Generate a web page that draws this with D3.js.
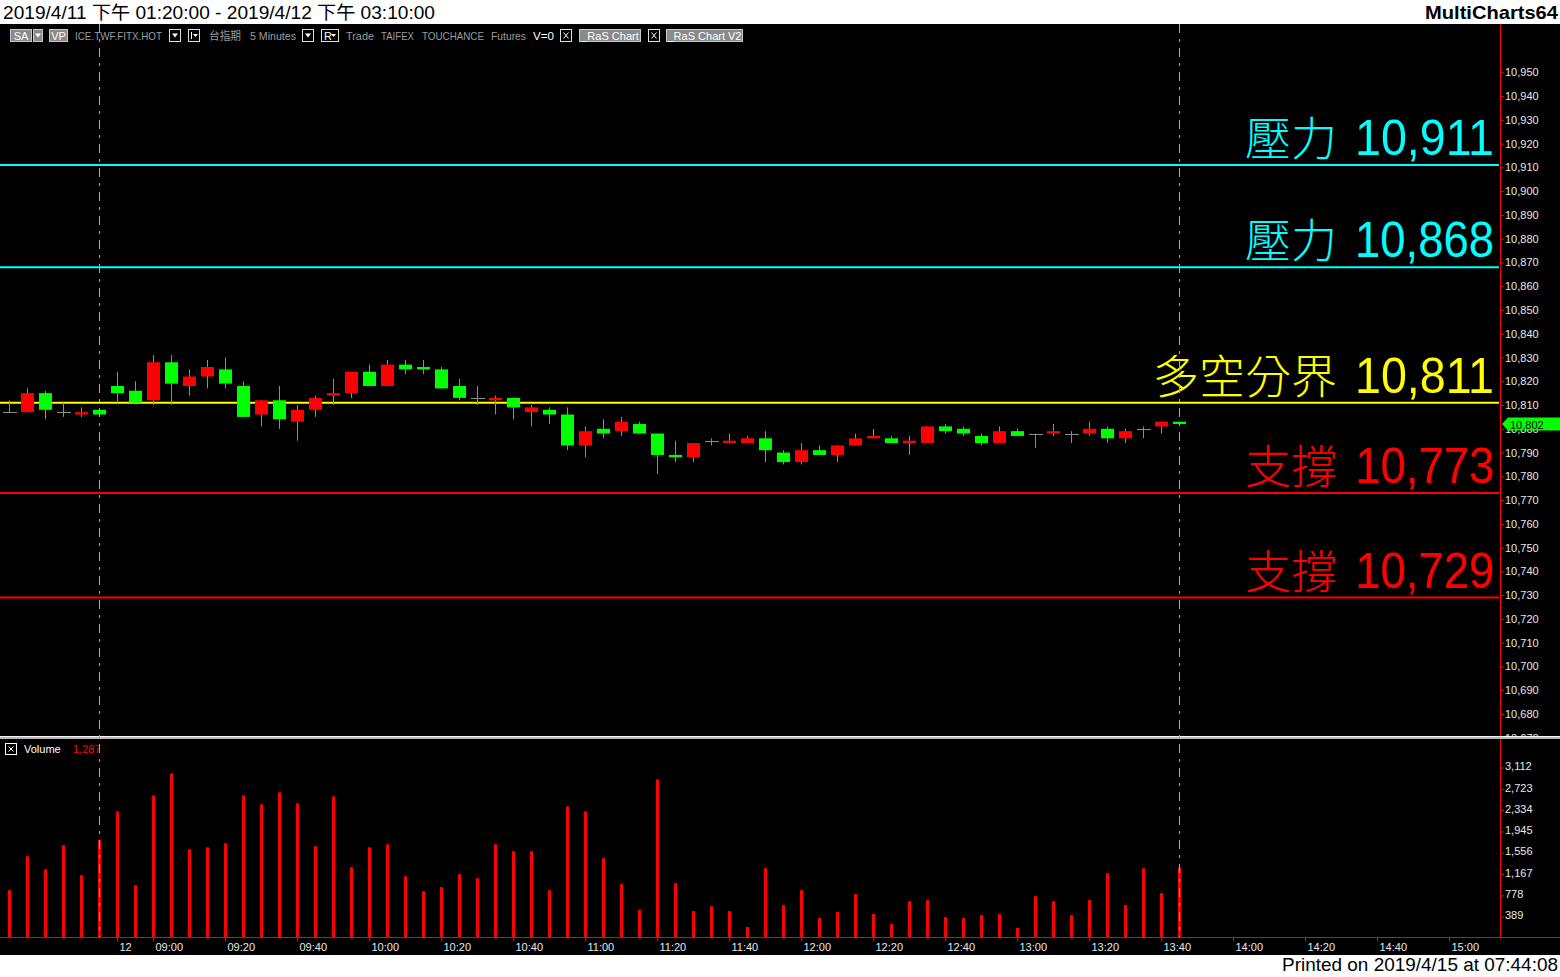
<!DOCTYPE html>
<html>
<head>
<meta charset="utf-8">
<script src="https://cdn.jsdelivr.net/npm/d3@7"></script>
<style>
html,body{margin:0;padding:0;background:#fff;}
svg{display:block;}
text{font-family:"Liberation Sans",Arial,sans-serif;}
</style>
</head>
<body>
<svg id="chart" width="1560" height="977"></svg>
<script>
// ---------------- DATA ----------------
const opens  = [10807,10807,10815,10807,10806,10808,10818,10816,10812,10828,10818,10822,10825,10818,10806,10812,10803,10808,10814,10815,10824,10818,10827,10826,10825,10818,10813,10812,10813,10807,10808,10806,10793,10800,10799,10802,10798,10789,10788,10795,10794,10794,10796,10790,10786,10791,10789,10793,10796,10796,10794,10794,10801,10800,10797,10794,10799,10798,10798,10798,10798,10800,10796,10800,10801,10803];
const highs  = [10812,10817,10816,10811,10809,10808,10824,10820,10831,10831,10825,10829,10830,10820,10812,10818,10810,10814,10821,10824,10827,10829,10829,10829,10826,10821,10818,10814,10813,10810,10809,10809,10801,10804,10805,10803,10798,10795,10794,10796,10798,10797,10799,10791,10794,10793,10793,10798,10800,10797,10797,10801,10802,10801,10798,10801,10800,10798,10802,10799,10803,10801,10800,10801,10803,10803];
const lows   = [10807,10807,10804,10805,10805,10806,10811,10811,10810,10810,10814,10817,10817,10805,10801,10800,10795,10805,10810,10813,10818,10818,10823,10823,10817,10812,10810,10806,10804,10801,10802,10791,10788,10796,10797,10798,10781,10786,10786,10793,10794,10794,10786,10785,10785,10789,10786,10793,10796,10794,10789,10794,10798,10797,10793,10794,10797,10792,10797,10794,10797,10794,10794,10796,10798,10802];
const closes = [10807,10815,10808,10807,10807,10806,10815,10811,10828,10819,10822,10826,10819,10805,10812,10804,10808,10813,10815,10824,10818,10827,10825,10825,10817,10813,10813,10813,10809,10809,10806,10793,10799,10798,10803,10798,10789,10788,10794,10795,10795,10796,10791,10786,10791,10789,10793,10796,10797,10794,10795,10801,10799,10798,10794,10799,10797,10798,10799,10798,10800,10796,10799,10800,10803,10802];
const volumes = [873,1492,1256,1692,1146,1783,2311,964,2602,3003,1620,1656,1729,2602,2439,2657,2457,1674,2584,1292,1656,1711,1128,855,928,1165,1092,1711,1583,1583,873,2402,2311,1456,983,510,2893,1001,491,582,491,200,1274,601,873,364,473,801,437,255,673,692,382,364,419,437,182,764,673,419,692,1183,601,1274,819,1287];

const xTickIdx    = [6,8,12,16,20,24,28,32,36,40,44,48,52,56,60,64,68,72,76,80];
const xTickLabels = ["12","09:00","09:20","09:40","10:00","10:20","10:40","11:00","11:20","11:40","12:00","12:20","12:40","13:00","13:20","13:40","14:00","14:20","14:40","15:00"];
const sessionEndIdx = [5, 65];

const priceTicks = d3.range(10670, 10951, 10);
const priceMinorTicks = d3.range(10665, 10960, 10);
const volumeTicks = [389,778,1167,1556,1945,2334,2723,3112];
const volumeMinorTicks = [194.5,583.5,972.5,1361.5,1750.5,2139.5,2528.5,2917.5];

const srValues = [10911, 10868, 10811, 10773, 10729];
const srNames  = ["壓力", "壓力", "多空分界", "支撐", "支撐"];
const srKinds  = ["res", "res", "pivot", "sup", "sup"];

const headerText  = "2019/4/11 下午 01:20:00 - 2019/4/12 下午 03:10:00";
const brandText   = "MultiCharts64";
const printedText = "Printed on 2019/4/15 at 07:44:08";
const lastVolumeLabel = "1,287";

// ---------------- STYLE ----------------
const srColor = {res:"#00ffff", pivot:"#ffff00", sup:"#ff0000"};
const UP = "#ff0000", DOWN = "#00ff00", WICK = "#8c8c8c";
const AXIS = "#ff0000", LBL = "#e8e8e8";

const svg = d3.select("#chart");
const W = 1560, H = 977;

// scales
const x  = d3.scaleLinear().domain([0, 82]).range([9, 9 + 18*82]);
const yP = d3.scaleLinear().domain([10680, 10950]).range([714, 72.3]);
const yV = d3.scaleLinear().domain([0, 3112]).range([938, 767.5]);
const AX = 1500;

// backgrounds
svg.append("rect").attr("x",0).attr("y",0).attr("width",W).attr("height",H).attr("fill","#fff");
svg.append("rect").attr("x",0).attr("y",24).attr("width",W).attr("height",931).attr("fill","#000");

// header
svg.append("text").attr("x",3).attr("y",19).attr("font-size",18.5).attr("fill","#000")
  .attr("textLength",432).attr("lengthAdjust","spacingAndGlyphs")
  .style("font-family","'Liberation Sans','Noto Sans CJK TC',Arial,sans-serif").text(headerText);
svg.append("text").attr("x",1558).attr("y",19).attr("text-anchor","end").attr("font-size",19)
  .attr("font-weight","bold").attr("fill","#000").attr("textLength",133).attr("lengthAdjust","spacingAndGlyphs").text(brandText);
svg.append("text").attr("x",1558).attr("y",971).attr("text-anchor","end").attr("font-size",19)
  .attr("fill","#000").attr("textLength",276).attr("lengthAdjust","spacingAndGlyphs").text(printedText);

// ---------------- toolbar ----------------
const tb = svg.append("g").attr("font-size",11);
function greyBox(x0, w, label){
  tb.append("rect").attr("x",x0+0.5).attr("y",29.5).attr("width",w).attr("height",12).attr("fill","#8a8a8a").attr("stroke","#c8c8c8");
  tb.append("text").attr("x",x0+w/2+0.5).attr("y",39.5).attr("text-anchor","middle").attr("fill","#fff").attr("font-size",11).text(label);
}
function dropArrow(cx){
  tb.append("path").attr("d",`M${cx-3},33.5 L${cx+3},33.5 L${cx},37.5 Z`).attr("fill","#fff");
}
function greyText(x0, t, len, col){
  tb.append("text").attr("x",x0).attr("y",39.5).attr("fill",col||"#9c9c9c")
    .attr("textLength",len).attr("lengthAdjust","spacingAndGlyphs")
    .style("font-family","'Liberation Sans','Noto Sans CJK TC',Arial,sans-serif").text(t);
}
greyBox(10, 21, "SA");
tb.append("rect").attr("x",33.5).attr("y",29.5).attr("width",9).attr("height",12).attr("fill","#8a8a8a").attr("stroke","#c8c8c8");
dropArrow(38);
greyBox(49, 18, "VP");
greyText(75, "ICE.TWF.FITX.HOT", 87);
tb.append("rect").attr("x",169.5).attr("y",29.5).attr("width",11).attr("height",12).attr("fill","#000").attr("stroke","#e0e0e0");
dropArrow(175);
tb.append("rect").attr("x",188.5).attr("y",29.5).attr("width",11).attr("height",12).attr("fill","#000").attr("stroke","#e0e0e0");
tb.append("line").attr("x1",191.5).attr("x2",191.5).attr("y1",32).attr("y2",39).attr("stroke","#fff");
tb.append("path").attr("d","M193,34 L198,34 L195.5,37 Z").attr("fill","#fff");
greyText(209, "台指期", 32);
greyText(250, "5 Minutes", 46);
tb.append("rect").attr("x",302.5).attr("y",29.5).attr("width",11).attr("height",12).attr("fill","#000").attr("stroke","#e0e0e0");
dropArrow(308);
tb.append("rect").attr("x",321.5).attr("y",29.5).attr("width",17).attr("height",12).attr("fill","#000").attr("stroke","#e0e0e0");
tb.append("text").attr("x",324).attr("y",39.5).attr("fill","#fff").attr("font-size",11).text("R");
tb.append("path").attr("d","M331,34 L336,34 L333.5,37 Z").attr("fill","#fff");
greyText(346, "Trade", 28);
greyText(381, "TAIFEX", 33);
greyText(422, "TOUCHANCE", 62);
greyText(491, "Futures", 35);
greyText(533, "V=0", 21, "#fff");
function xBox(x0){
  tb.append("rect").attr("x",x0+0.5).attr("y",29.5).attr("width",11).attr("height",12).attr("fill","#000").attr("stroke","#e0e0e0");
  tb.append("path").attr("d",`M${x0+3.5},${32.5} L${x0+8.5},${38.5} M${x0+8.5},${32.5} L${x0+3.5},${38.5}`).attr("stroke","#fff");
}
xBox(560);
greyBox(579, 61, "_RaS Chart");
xBox(648);
greyBox(666, 76, "_RaS Chart V2");

// ---------------- price panel ----------------
const pricePanel = svg.append("g");
svg.append("clipPath").attr("id","pclip").append("rect").attr("x",0).attr("y",24).attr("width",W).attr("height",712);
pricePanel.attr("clip-path","url(#pclip)");

// price axis
const pAxis = d3.axisRight(yP).tickValues(priceTicks).tickSize(4).tickPadding(1).tickFormat(d3.format(","));
const pAxisG = pricePanel.append("g").attr("transform",`translate(${AX},0)`).call(pAxis);
const pMinor = d3.axisRight(yP).tickValues(priceMinorTicks).tickSize(2).tickFormat("");
const pMinorG = pricePanel.append("g").attr("transform",`translate(${AX},0)`).call(pMinor);
[pAxisG, pMinorG].forEach(g=>{
  g.select(".domain").remove();
  g.selectAll("line").attr("stroke",AXIS);
  g.selectAll("text").attr("fill",LBL).attr("font-size",11).style("font-family","'Liberation Sans',Arial,sans-serif");
});
pricePanel.append("line").attr("x1",AX+0.5).attr("x2",AX+0.5).attr("y1",24).attr("y2",736).attr("stroke",AXIS);

// support/resistance lines
const sr = pricePanel.append("g");
srValues.forEach((v,i)=>{
  const yy = yP(v);
  const col = srColor[srKinds[i]];
  sr.append("line").attr("x1",0).attr("x2",AX-1).attr("y1",yy).attr("y2",yy).attr("stroke",col).attr("stroke-width",2);
  sr.append("text").attr("x",1494).attr("y",yy-10).attr("text-anchor","end").attr("font-size",50)
    .attr("fill",col).attr("textLength",139).attr("lengthAdjust","spacingAndGlyphs")
    .style("font-family","'Liberation Sans',Arial,sans-serif").text(d3.format(",")(v));
  sr.append("text").attr("x",1337).attr("y",yy-10).attr("text-anchor","end").attr("font-size",46)
    .attr("fill",col).attr("font-weight",300)
    .style("font-family","'Noto Sans CJK TC','Noto Sans CJK SC',sans-serif").text(srNames[i]);
});

// candles
const candles = pricePanel.append("g");
opens.forEach((o,i)=>{
  const c = closes[i], h = highs[i], l = lows[i];
  const cx = Math.round(x(i));
  candles.append("line").attr("x1",cx+0.5).attr("x2",cx+0.5).attr("y1",yP(h)).attr("y2",yP(l)).attr("stroke",WICK).attr("stroke-width",1);
  if (o === c) {
    candles.append("line").attr("x1",cx-6).attr("x2",cx+8).attr("y1",Math.round(yP(o))+0.5).attr("y2",Math.round(yP(o))+0.5).attr("stroke",WICK);
  } else {
    const top = yP(Math.max(o,c)), bot = yP(Math.min(o,c));
    candles.append("rect").attr("x",cx-6).attr("width",13).attr("y",top).attr("height",Math.max(2,bot-top))
      .attr("fill", c > o ? UP : DOWN);
  }
});

// current price tag
const lastC = closes[closes.length-1];
const ty = yP(lastC);
pricePanel.append("path").attr("d",`M${AX+2},${ty} L${AX+8},${ty-6.5} L1560,${ty-6.5} L1560,${ty+6.5} L${AX+8},${ty+6.5} Z`).attr("fill","#00ff00");
pricePanel.append("text").attr("x",AX+10).attr("y",ty+4.5).attr("font-size",11).attr("fill","#000").text(d3.format(",")(lastC));

// separator
svg.append("rect").attr("x",0).attr("y",736).attr("width",W).attr("height",3).attr("fill","#b8b8b8");
svg.append("line").attr("x1",0).attr("x2",W).attr("y1",736.5).attr("y2",736.5).attr("stroke","#f4f4f4");

// ---------------- volume panel ----------------
const vol = svg.append("g");
vol.selectAll("rect.v").data(volumes).join("rect").attr("class","v")
  .attr("x",(d,i)=>Math.round(x(i))-1).attr("width",3)
  .attr("y",d=>yV(d)).attr("height",d=>yV(0)-yV(d)).attr("fill","#ff0000");

const vAxis = d3.axisRight(yV).tickValues(volumeTicks).tickSize(4).tickPadding(1).tickFormat(d3.format(","));
const vAxisG = vol.append("g").attr("transform",`translate(${AX},0)`).call(vAxis);
const vMinorG = vol.append("g").attr("transform",`translate(${AX},0)`).call(d3.axisRight(yV).tickValues(volumeMinorTicks).tickSize(2).tickFormat(""));
[vAxisG, vMinorG].forEach(g=>{
  g.select(".domain").remove();
  g.selectAll("line").attr("stroke",AXIS);
  g.selectAll("text").attr("fill",LBL).attr("font-size",11).attr("dy","0.2em");
});
vol.append("line").attr("x1",AX+0.5).attr("x2",AX+0.5).attr("y1",739).attr("y2",938).attr("stroke",AXIS);

// volume title
vol.append("rect").attr("x",5.5).attr("y",743.5).attr("width",11).attr("height",11).attr("fill","#000").attr("stroke","#fff");
vol.append("path").attr("d","M8.5,746.5 L13.5,751.5 M13.5,746.5 L8.5,751.5").attr("stroke","#fff");
vol.append("text").attr("x",24).attr("y",753).attr("font-size",11).attr("fill","#fff").text("Volume");
vol.append("text").attr("x",73).attr("y",753).attr("font-size",11).attr("fill","#ff0000").text(lastVolumeLabel);

// x axis
const xAxis = d3.axisBottom(x).tickValues(xTickIdx).tickSize(4).tickPadding(2)
  .tickFormat((d,i)=>xTickLabels[i]);
const xAxisG = svg.append("g").attr("transform","translate(0,937.5)").call(xAxis);
xAxisG.select(".domain").remove();
xAxisG.selectAll("line").attr("stroke",AXIS);
xAxisG.selectAll("text").attr("fill",LBL).attr("font-size",11).attr("text-anchor","start").attr("x",2);
svg.append("line").attr("x1",0).attr("x2",W).attr("y1",937.5).attr("y2",937.5).attr("stroke",AXIS);

// session dashed lines
svg.selectAll("line.sess").data(sessionEndIdx).join("line").attr("class","sess")
  .attr("x1",d=>Math.round(x(d))+0.5).attr("x2",d=>Math.round(x(d))+0.5)
  .attr("y1",24).attr("y2",937).attr("stroke","#a8a8a8").attr("stroke-dasharray","9,6,3,6");
</script>
</body>
</html>
